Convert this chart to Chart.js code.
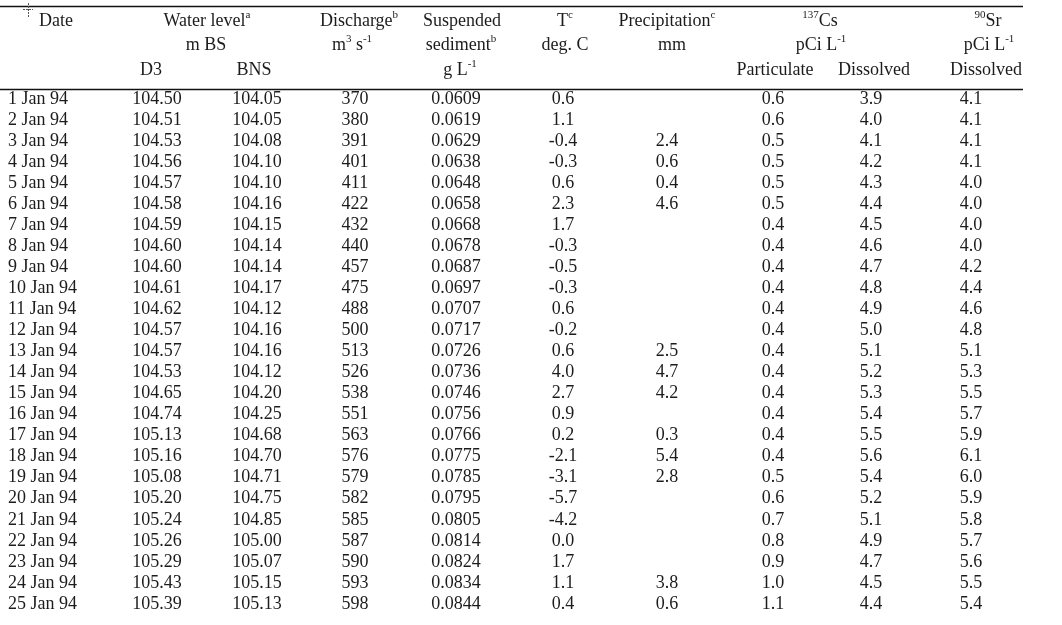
<!DOCTYPE html>
<html>
<head>
<meta charset="utf-8">
<script src="https://cdn.jsdelivr.net/npm/chart.js@4.4.0/dist/chart.umd.min.js"></script>
<style>
  html, body { margin: 0; padding: 0; background: #fff; }
  canvas { display: block; }
</style>
</head>
<body>
<canvas id="tableChart" width="1062" height="625"></canvas>
<script>
// table data, one array per column
const dates = ["1 Jan 94","2 Jan 94","3 Jan 94","4 Jan 94","5 Jan 94","6 Jan 94","7 Jan 94","8 Jan 94","9 Jan 94","10 Jan 94",
  "11 Jan 94","12 Jan 94","13 Jan 94","14 Jan 94","15 Jan 94","16 Jan 94","17 Jan 94","18 Jan 94","19 Jan 94","20 Jan 94",
  "21 Jan 94","22 Jan 94","23 Jan 94","24 Jan 94","25 Jan 94"];
const levelD3 = [104.50,104.51,104.53,104.56,104.57,104.58,104.59,104.60,104.60,104.61,104.62,104.57,104.57,104.53,104.65,104.74,105.13,105.16,105.08,105.20,105.24,105.26,105.29,105.43,105.39];
const levelBNS = [104.05,104.05,104.08,104.10,104.10,104.16,104.15,104.14,104.14,104.17,104.12,104.16,104.16,104.12,104.20,104.25,104.68,104.70,104.71,104.75,104.85,105.00,105.07,105.15,105.13];
const discharge = [370,380,391,401,411,422,432,440,457,475,488,500,513,526,538,551,563,576,579,582,585,587,590,593,598];
const sediment = [0.0609,0.0619,0.0629,0.0638,0.0648,0.0658,0.0668,0.0678,0.0687,0.0697,0.0707,0.0717,0.0726,0.0736,0.0746,0.0756,0.0766,0.0775,0.0785,0.0795,0.0805,0.0814,0.0824,0.0834,0.0844];
const temperature = [0.6,1.1,-0.4,-0.3,0.6,2.3,1.7,-0.3,-0.5,-0.3,0.6,-0.2,0.6,4.0,2.7,0.9,0.2,-2.1,-3.1,-5.7,-4.2,0.0,1.7,1.1,0.4];
const precipitation = [null,null,2.4,0.6,0.4,4.6,null,null,null,null,null,null,2.5,4.7,4.2,null,0.3,5.4,2.8,null,null,null,null,3.8,0.6];
const csParticulate = [0.6,0.6,0.5,0.5,0.5,0.5,0.4,0.4,0.4,0.4,0.4,0.4,0.4,0.4,0.4,0.4,0.4,0.4,0.5,0.6,0.7,0.8,0.9,1.0,1.1];
const csDissolved = [3.9,4.0,4.1,4.2,4.3,4.4,4.5,4.6,4.7,4.8,4.9,5.0,5.1,5.2,5.3,5.4,5.5,5.6,5.4,5.2,5.1,4.9,4.7,4.5,4.4];
const srDissolved = [4.1,4.1,4.1,4.1,4.0,4.0,4.0,4.0,4.2,4.4,4.6,4.8,5.1,5.3,5.5,5.7,5.9,6.1,6.0,5.9,5.8,5.7,5.6,5.5,5.4];

// header text, runs with sup:true are superscripts
const headerLines = [
  { runs: [["Date"]], col: 56, line: 0 },
  { runs: [["Water level"], ["a", true]], col: 207, line: 0 },
  { runs: [["m BS"]], col: 206, line: 1 },
  { runs: [["D3"]], col: 151, line: 2 },
  { runs: [["BNS"]], col: 254, line: 2 },
  { runs: [["Discharge"], ["b", true]], col: 359, line: 0 },
  { runs: [["m"], ["3", true], [" s"], ["-1", true]], col: 352, line: 1 },
  { runs: [["Suspended"]], col: 462, line: 0 },
  { runs: [["sediment"], ["b", true]], col: 461, line: 1 },
  { runs: [["g L"], ["-1", true]], col: 460, line: 2 },
  { runs: [["T"], ["c", true]], col: 565, line: 0 },
  { runs: [["deg. C"]], col: 565, line: 1 },
  { runs: [["Precipitation"], ["c", true]], col: 667, line: 0 },
  { runs: [["mm"]], col: 672, line: 1 },
  { runs: [["137", true], ["Cs"]], col: 820, line: 0 },
  { runs: [["pCi L"], ["-1", true]], col: 821, line: 1 },
  { runs: [["Particulate"]], col: 775, line: 2 },
  { runs: [["Dissolved"]], col: 874, line: 2 },
  { runs: [["90", true], ["Sr"]], col: 988, line: 0 },
  { runs: [["pCi L"], ["-1", true]], col: 989, line: 1 },
  { runs: [["Dissolved"]], col: 986, line: 2 }
];

// column layout: x centre (or left edge for the date), decimals
const columns = [
  { values: dates, x: 8, align: "left" },
  { values: levelD3, x: 157, digits: 2 },
  { values: levelBNS, x: 257, digits: 2 },
  { values: discharge, x: 355, digits: 0 },
  { values: sediment, x: 456, digits: 4 },
  { values: temperature, x: 563, digits: 1 },
  { values: precipitation, x: 667, digits: 1 },
  { values: csParticulate, x: 773, digits: 1 },
  { values: csDissolved, x: 871, digits: 1 },
  { values: srDissolved, x: 971, digits: 1 }
];

const headerRows = [-2.68, -1.56, -0.35]; // y positions of the 3 header lines (row units)
const ruleRows = [-3.42, 0.52];           // top rule and rule under the header
const FONT = "Liberation Serif, 'Times New Roman', serif";
const TEXT_COLOR = "#1c1c1c";

function drawRuns(ctx, runs, cx, cy) {
  // measure first so the whole group can be centred
  let width = 0;
  runs.forEach(r => {
    ctx.font = (r[1] ? "11px " : "18px ") + FONT;
    width += ctx.measureText(r[0]).width;
  });
  let x = cx - width / 2;
  runs.forEach(r => {
    ctx.font = (r[1] ? "11px " : "18px ") + FONT;
    ctx.fillText(r[0], x, r[1] ? cy - 6 : cy);
    x += ctx.measureText(r[0]).width;
  });
}

const tablePlugin = {
  id: "tableText",
  afterDatasetsDraw(chart) {
    const ctx = chart.ctx;
    const xs = chart.scales.x;
    const ys = chart.scales.y;
    ctx.save();
    ctx.fillStyle = TEXT_COLOR;
    ctx.textBaseline = "middle";

    // rules
    ctx.strokeStyle = "#111";
    ctx.lineWidth = 1.5;
    ruleRows.forEach(r => {
      const y = Math.round(ys.getPixelForValue(r)) + 0.5;
      ctx.beginPath();
      ctx.moveTo(xs.getPixelForValue(0), y);
      ctx.lineTo(xs.getPixelForValue(1023), y);
      ctx.stroke();
    });

    // small cross mark in the corner
    ctx.lineWidth = 1;
    ctx.setLineDash([2, 1]);
    ctx.strokeStyle = "#555";
    ctx.beginPath();
    ctx.moveTo(xs.getPixelForValue(23), 9.5);
    ctx.lineTo(xs.getPixelForValue(33), 9.5);
    ctx.moveTo(xs.getPixelForValue(28) + 0.5, 3);
    ctx.lineTo(xs.getPixelForValue(28) + 0.5, 17);
    ctx.stroke();
    ctx.setLineDash([]);

    // header
    ctx.textAlign = "left";
    headerLines.forEach(h => {
      drawRuns(ctx, h.runs, xs.getPixelForValue(h.col), ys.getPixelForValue(headerRows[h.line]));
    });

    // body cells, placed at the dataset points
    ctx.font = "18px " + FONT;
    chart.data.datasets.forEach((ds, di) => {
      const col = columns[di];
      const meta = chart.getDatasetMeta(di);
      ctx.textAlign = col.align === "left" ? "left" : "center";
      meta.data.forEach((pt, i) => {
        const v = col.values[i];
        if (v === null || v === undefined) return;
        const label = typeof v === "number" ? v.toFixed(col.digits) : v;
        ctx.fillText(label, pt.x, pt.y);
      });
    });
    ctx.restore();
  }
};

new Chart(document.getElementById("tableChart"), {
  type: "scatter",
  data: {
    datasets: columns.map(col => ({
      data: col.values.map((v, i) => ({ x: col.x, y: i + 1 })),
      pointRadius: 0,
      pointHoverRadius: 0
    }))
  },
  options: {
    responsive: false,
    animation: false,
    events: [],
    layout: { padding: 0 },
    plugins: { legend: { display: false }, tooltip: { enabled: false } },
    scales: {
      x: { type: "linear", display: false, min: 0, max: 1062 },
      y: { type: "linear", display: false, reverse: true, min: -3.705, max: 26.0 }
    }
  },
  plugins: [tablePlugin]
});
</script>
</body>
</html>
